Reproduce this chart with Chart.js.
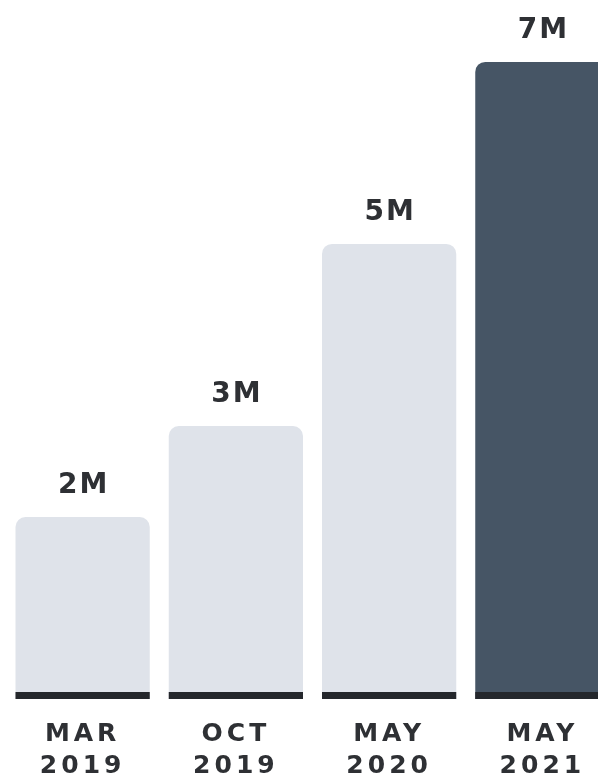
<!DOCTYPE html>
<html>
<head>
<meta charset="utf-8">
<script src="https://cdn.jsdelivr.net/npm/chart.js@4/dist/chart.umd.min.js"></script>
<style>
    html, body { margin: 0; padding: 0; background: #ffffff; overflow: hidden; }
    #wrap { position: relative; width: 625px; height: 779px; }
</style>
</head>
<body>
<div id="wrap"><canvas id="chartUsers"></canvas></div>
<script>
// data (millions)
const periods = [["MAR", "2019"], ["OCT", "2019"], ["MAY", "2020"], ["MAY", "2021"]];
const users = [2, 3, 5, 7];
const valueLabels = ["2M", "3M", "5M", "7M"];
const barColors = ["#dfe3ea", "#dfe3ea", "#dfe3ea", "#465565"];

const textColor = "#2e3034";
const baseColor = "#24272c";

// dark strip along the bottom of every bar + value label above it
const barDecor = {
    id: "barDecor",
    afterDatasetsDraw(chart) {
        const ctx = chart.ctx;
        const meta = chart.getDatasetMeta(0);
        ctx.save();
        meta.data.forEach((bar, i) => {
            const left = bar.x - bar.width / 2;
            ctx.fillStyle = baseColor;
            ctx.fillRect(left, bar.base - 7, bar.width, 7);

            ctx.fillStyle = textColor;
            ctx.font = "bold 28px 'DejaVu Sans'";
            ctx.letterSpacing = "2px";
            ctx.textAlign = "center";
            ctx.textBaseline = "alphabetic";
            ctx.fillText(valueLabels[i], bar.x + 1, bar.y - 24);
        });
        ctx.restore();
    },
    beforeDraw(chart) {
        chart.ctx.letterSpacing = "4px";
    }
};

new Chart(document.getElementById("chartUsers"), {
    type: "bar",
    data: {
        labels: periods,
        datasets: [{
            data: users,
            backgroundColor: barColors,
            borderRadius: 10,
            borderSkipped: "start",
            categoryPercentage: 1,
            barPercentage: 0.876
        }]
    },
    options: {
        responsive: true,
        maintainAspectRatio: false,
        animation: false,
        layout: { padding: { left: 6, right: 6, top: 0, bottom: 0 } },
        plugins: {
            legend: { display: false },
            tooltip: { enabled: false }
        },
        scales: {
            y: {
                display: false,
                min: 0,
                max: 7.68
            },
            x: {
                grid: { display: false, drawTicks: false },
                border: { display: false },
                afterFit(scale) { scale.height = 80; },
                ticks: {
                    color: textColor,
                    padding: 19,
                    font: { family: "DejaVu Sans", size: 25, weight: "bold", lineHeight: 1.3 }
                }
            }
        }
    },
    plugins: [barDecor]
});
</script>
</body>
</html>
